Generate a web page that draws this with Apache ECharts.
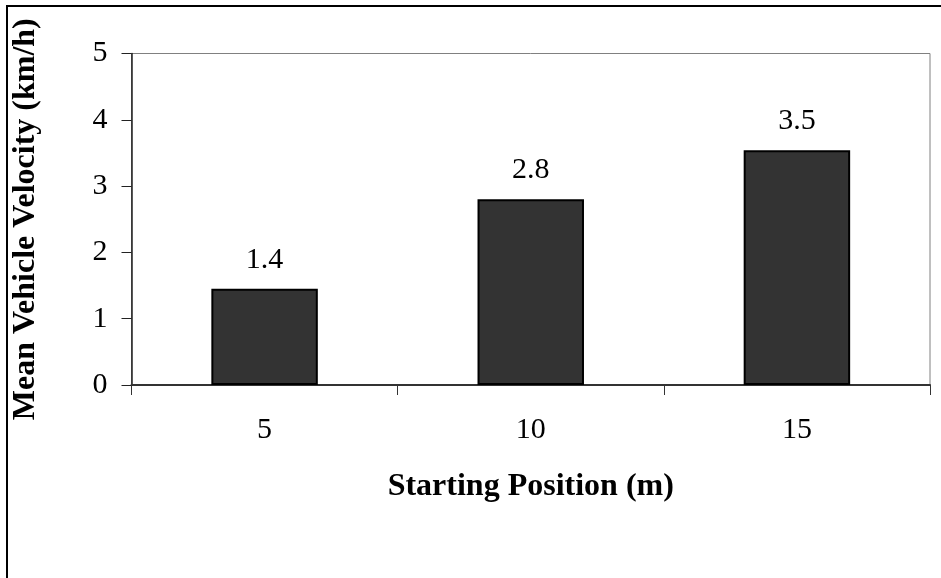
<!DOCTYPE html>
<html>
<head>
<meta charset="utf-8">
<script src="https://cdn.jsdelivr.net/npm/echarts@6/dist/echarts.min.js"></script>
<style>
html,body{margin:0;padding:0;background:#fff;}
#chart{width:941px;height:578px;}
</style>
</head>
<body>
<div id="chart"></div>
<script>
const categories = ['5', '10', '15'];
const velocities = [1.45, 2.8, 3.54];
const valueLabels = ['1.4', '2.8', '3.5'];
const yTicks = [0, 1, 2, 3, 4, 5];
const xTitle = 'Starting Position (m)';
const yTitle = 'Mean Vehicle Velocity (km/h)';

const FONT = '"Liberation Serif", "Times New Roman", serif';
const chart = echarts.init(document.getElementById('chart'));
chart.setOption({
  animation: false,
  backgroundColor: '#ffffff',
  graphic: [{
    type: 'rect',
    shape: { x: 7, y: 6, width: 2000, height: 2000 },
    style: { fill: 'none', stroke: '#000', lineWidth: 2 },
    silent: true
  }],
  grid: {
    left: 131.5, right: 11, top: 53.5, bottom: 193,
    show: true, borderColor: '#808080', borderWidth: 1, backgroundColor: 'transparent'
  },
  xAxis: {
    type: 'category',
    data: categories,
    name: xTitle,
    nameLocation: 'middle',
    nameGap: 86,
    nameTextStyle: { fontFamily: FONT, fontSize: 32, fontWeight: 'bold', color: '#000' },
    axisLine: { lineStyle: { color: '#333', width: 2 } },
    axisTick: { show: true, alignWithLabel: false, length: 10, lineStyle: { color: '#333', width: 1 } },
    axisLabel: { fontFamily: FONT, fontSize: 30, color: '#000', margin: 30 },
    splitLine: { show: false }
  },
  yAxis: {
    type: 'value',
    min: yTicks[0],
    max: yTicks[yTicks.length - 1],
    interval: 1,
    name: yTitle,
    nameLocation: 'middle',
    nameGap: 90,
    nameTextStyle: { fontFamily: FONT, fontSize: 32, fontWeight: 'bold', color: '#000' },
    axisLine: { show: true, lineStyle: { color: '#222', width: 1.5 } },
    axisTick: { show: true, length: 10, lineStyle: { color: '#222', width: 1 } },
    axisLabel: { fontFamily: FONT, fontSize: 30, color: '#000', margin: 24 },
    splitLine: { show: false }
  },
  series: [{
    type: 'bar',
    data: velocities,
    barWidth: '40%',
    itemStyle: { color: '#333333', borderColor: '#000', borderWidth: 2 },
    label: {
      show: true,
      position: 'top',
      distance: 14,
      fontFamily: FONT,
      fontSize: 30,
      color: '#000',
      formatter: (p) => valueLabels[p.dataIndex]
    }
  }]
});
</script>
</body>
</html>
